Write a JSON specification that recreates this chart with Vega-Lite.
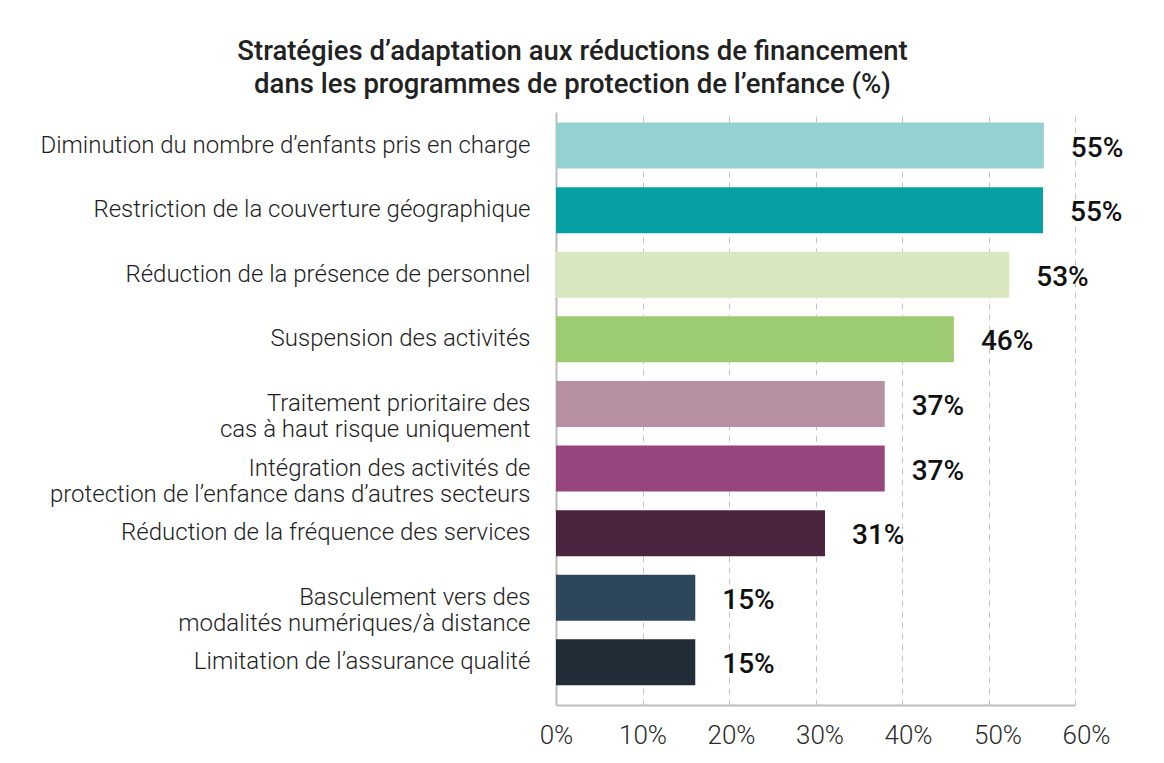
{
  "$schema": "https://vega.github.io/schema/vega-lite/v6.json",
  "autosize": {"type": "none"},
  "width": 519,
  "height": 593,
  "padding": {"left": 556, "top": 112, "right": 89, "bottom": 58},
  "background": "white",
  "title": {
    "text": ["Stratégies d’adaptation aux réductions de financement", "dans les programmes de protection de l’enfance (%)"],
    "anchor": "middle",
    "frame": "group",
    "dx": -243,
    "offset": 14,
    "font": "Roboto",
    "fontSize": 27.5,
    "fontWeight": 500,
    "color": "#222222",
    "lineHeight": 33
  },
  "data": {
    "values": [
      {"strategie": "Diminution du nombre d’enfants pris en charge", "valeur": 56.4, "etiquette": "55%"},
      {"strategie": "Restriction de la couverture géographique", "valeur": 56.3, "etiquette": "55%"},
      {"strategie": "Réduction de la présence de personnel", "valeur": 52.4, "etiquette": "53%"},
      {"strategie": "Suspension des activités", "valeur": 46.0, "etiquette": "46%"},
      {"strategie": "Traitement prioritaire des|cas à haut risque uniquement", "valeur": 38.0, "etiquette": "37%"},
      {"strategie": "Intégration des activités de|protection de l’enfance dans d’autres secteurs", "valeur": 38.0, "etiquette": "37%"},
      {"strategie": "Réduction de la fréquence des services", "valeur": 31.1, "etiquette": "31%"},
      {"strategie": "Basculement vers des|modalités numériques/à distance", "valeur": 16.1, "etiquette": "15%"},
      {"strategie": "Limitation de l’assurance qualité", "valeur": 16.1, "etiquette": "15%"}
    ]
  },
  "encoding": {
    "y": {
      "field": "strategie",
      "type": "nominal",
      "sort": null,
      "scale": {"paddingInner": 0.288, "paddingOuter": 0.234, "align": 0.35},
      "axis": {
        "title": null,
        "ticks": false,
        "domainColor": "#bdbdbd",
        "domainWidth": 2,
        "labelPadding": 26,
        "labelFont": "Roboto",
        "labelFontWeight": 300,
        "labelFontSize": 24,
        "labelColor": "#1e1e1e",
        "labelLimit": 700,
        "labelLineHeight": 26,
        "labelExpr": "split(datum.label, '|')"
      }
    },
    "x": {
      "field": "valeur",
      "type": "quantitative",
      "scale": {"domain": [0, 60], "nice": false},
      "axis": {
        "title": null,
        "values": [0, 10, 20, 30, 40, 50, 60],
        "format": "d",
        "labelExpr": "datum.value + '%'",
        "ticks": false,
        "grid": true,
        "gridColor": "#c4c4c4",
        "gridDash": [6, 5],
        "gridWidth": 1,
        "domainColor": "#bdbdbd",
        "domainWidth": 2,
        "labelPadding": 17,
        "labelFont": "Roboto",
        "labelFontWeight": 300,
        "labelFontSize": 26,
        "labelColor": "#2a2a2a",
        "labelFlush": false,
        "labelOffset": {
          "condition": [
            {"test": "datum.value >= 60", "value": 11},
            {"test": "datum.value >= 50", "value": 9},
            {"test": "datum.value >= 40", "value": 6},
            {"test": "datum.value >= 30", "value": 4},
            {"test": "datum.value >= 20", "value": 2}
          ],
          "value": 0
        }
      }
    }
  },
  "layer": [
    {
      "mark": {"type": "bar"},
      "encoding": {
        "color": {
          "field": "strategie",
          "type": "nominal",
          "legend": null,
          "scale": {
            "domain": [
              "Diminution du nombre d’enfants pris en charge",
              "Restriction de la couverture géographique",
              "Réduction de la présence de personnel",
              "Suspension des activités",
              "Traitement prioritaire des|cas à haut risque uniquement",
              "Intégration des activités de|protection de l’enfance dans d’autres secteurs",
              "Réduction de la fréquence des services",
              "Basculement vers des|modalités numériques/à distance",
              "Limitation de l’assurance qualité"
            ],
            "range": ["#95d1d0", "#06a0a4", "#d9e7c0", "#9dcb72", "#b78fa2", "#96467c", "#4b2440", "#2d4659", "#222d38"]
          }
        }
      }
    },
    {
      "mark": {"type": "text", "align": "left", "baseline": "middle", "dx": 27, "dy": 3, "font": "Roboto", "fontWeight": 500, "fontSize": 28, "color": "#111111"},
      "encoding": {"text": {"field": "etiquette"}}
    }
  ],
  "config": {"view": {"stroke": null}}
}
